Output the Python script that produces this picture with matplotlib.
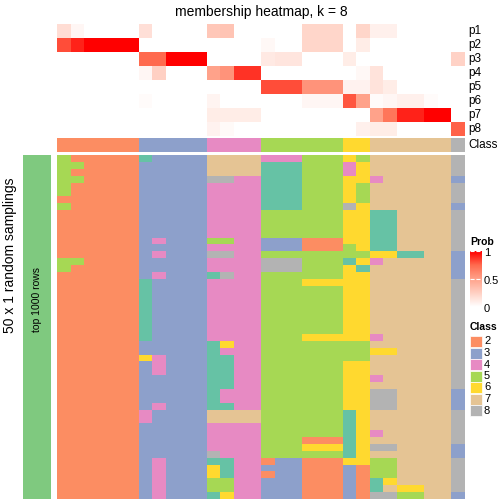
import numpy as np
import matplotlib
matplotlib.use("Agg")
import matplotlib.pyplot as plt
from matplotlib.colors import ListedColormap, BoundaryNorm, LinearSegmentedColormap
from matplotlib.patches import Rectangle

plt.rcParams['font.family'] = ['Liberation Sans', 'DejaVu Sans']

# class of each column (top annotation)
col_class = [2]*6 + [3]*5 + [4]*4 + [5]*6 + [6]*2 + [7]*6 + [8]

# membership probabilities p1..p8 for the 30 columns
p1 = [0.18, 0.05, 0, 0, 0, 0, 0.17, 0, 0, 0, 0, 0.30, 0.32, 0, 0, 0, 0, 0, 0.22, 0.22, 0.22, 0, 0.22, 0.08, 0.08, 0, 0, 0, 0, 0]
p2 = [0.82, 0.92, 1, 1, 1, 1, 0, 0, 0, 0, 0, 0, 0, 0, 0, 0.04, 0, 0, 0.22, 0.22, 0.22, 0, 0.10, 0, 0, 0, 0, 0, 0, 0]
p3 = [0, 0, 0, 0, 0, 0, 0.75, 0.75, 1, 1, 1, 0, 0, 0, 0, 0.12, 0.14, 0.14, 0, 0, 0, 0.10, 0, 0, 0, 0, 0, 0, 0, 0.24]
p4 = [0, 0, 0, 0, 0, 0, 0.05, 0.25, 0, 0, 0, 0.50, 0.57, 0.88, 0.88, 0, 0, 0, 0, 0, 0, 0, 0.04, 0.15, 0, 0, 0, 0, 0, 0]
p5 = [0, 0, 0, 0, 0, 0, 0, 0, 0, 0, 0, 0, 0, 0, 0, 0.82, 0.82, 0.82, 0.57, 0.57, 0.57, 0.07, 0.07, 0.15, 0.10, 0, 0, 0, 0, 0]
p6 = [0, 0, 0, 0, 0, 0, 0.02, 0, 0, 0, 0, 0.06, 0, 0, 0, 0, 0, 0, 0.05, 0.05, 0.05, 0.80, 0.50, 0.02, 0.05, 0.08, 0.08, 0.02, 0, 0]
p7 = [0, 0, 0, 0, 0, 0, 0, 0, 0, 0, 0, 0.10, 0.10, 0.10, 0.10, 0, 0, 0, 0, 0, 0, 0, 0, 0.50, 0.70, 0.92, 0.92, 1, 1, 0]
p8 = [0, 0, 0, 0, 0, 0, 0, 0, 0, 0, 0, 0.07, 0.03, 0, 0, 0, 0, 0, 0, 0, 0, 0, 0.08, 0.10, 0.10, 0, 0, 0, 0, 0.77]
prob_labels = ['p1', 'p2', 'p3', 'p4', 'p5', 'p6', 'p7', 'p8']

# class of each column in the 50 random samplings
samplings = [
    "522222133337777444555657777778",
    "552222333337777111555467777778",
    "522222333337777111555467777778",
    "552222333338844111555664777773",
    "522222333334444111555657777778",
    "522222333334444111555657777778",
    "222222333334444111555657777778",
    "522222333334444111555867777773",
    "222222333334444555555661177778",
    "222222333334444555555661177778",
    "222222333334444555555661177778",
    "222222333334444555555661177778",
    "222222343335544333222661177778",
    "222222333334444333222561177778",
    "222222343338844555555556611773",
    "552222333334444888555164777773",
    "522222333334444888555617777773",
    "222222343331844555555667777773",
    "222222133334444555666667777778",
    "222222133334444555555667777778",
    "222222133334444555555667777778",
    "222222133334444555555667777778",
    "222222133334444555555667777778",
    "222222133334444555555667777778",
    "222222133334444555555667777778",
    "222222133334444555555667777778",
    "222222133334444555666664777778",
    "222222333331644555555557777778",
    "222222333331444555555556677778",
    "222222643331144555555557777778",
    "222222343331144555555667777778",
    "222222343331144555555667777778",
    "222222333331144555555664777778",
    "222222333331144555555667777778",
    "222222333331444555555668877773",
    "222222333331444555555668877773",
    "222222343331144555555668877773",
    "222222433337777555555167777778",
    "222222433337777555555167777778",
    "222222333334444555555167777778",
    "222222333334444555555164777778",
    "222222333334444555222167777778",
    "222222333334444555666168877773",
    "222222333338444555555167777773",
    "222222343331144233222665577778",
    "222222343336144333222325577778",
    "222222343336144233222325577778",
    "222222343335544333222321677778",
    "222222343335544333222321766778",
    "222222343331644333222328855773",
]

class_ids = [1, 2, 3, 4, 5, 6, 7, 8]
class_cols = ['#66C2A5', '#FC8D62', '#8DA0CB', '#E78AC3', '#A6D854', '#FFD92F', '#E5C494', '#B3B3B3']
legend_classes = [2, 3, 4, 5, 6, 7, 8]

cls_cmap = ListedColormap(class_cols)
cls_norm = BoundaryNorm(np.arange(0.5, 9.5, 1), cls_cmap.N)
prob_cmap = LinearSegmentedColormap.from_list(
    'prob', [(0, '#FFFFFF'), (0.25, '#FFD0C3'), (0.5, '#FFA28A'), (0.75, '#FF6B4F'), (1, '#FF0000')])

W = H = 504
fig = plt.figure(figsize=(5.04, 5.04), dpi=100)

def px_axes(x0, y0, x1, y1):
    return fig.add_axes([x0 / W, 1 - y1 / H, (x1 - x0) / W, (y1 - y0) / H])

# top: membership probabilities
prob = np.array([p1, p2, p3, p4, p5, p6, p7, p8])
ax_top = px_axes(57, 24, 465, 136)
ax_top.pcolormesh(prob, cmap=prob_cmap, vmin=0, vmax=1)
ax_top.set_xlim(0, 30)
ax_top.set_ylim(8, 0)
ax_top.axis('off')
for i, lab in enumerate(prob_labels):
    ax_top.text(30.25, i + 0.5, lab, ha='left', va='center', fontsize=8.5, clip_on=False)

# class annotation bar
ax_cls = px_axes(57, 138, 465, 152)
ax_cls.pcolormesh(np.array([col_class]), cmap=cls_cmap, norm=cls_norm)
ax_cls.set_xlim(0, 30)
ax_cls.axis('off')
ax_cls.text(30.25, 0.5, 'Class', ha='left', va='center', fontsize=8.5, clip_on=False)

# bottom: random samplings
grid = np.array([[int(c) for c in row] for row in samplings])
ax_bot = px_axes(57, 155, 465, 499)
ax_bot.pcolormesh(grid, cmap=cls_cmap, norm=cls_norm)
ax_bot.set_xlim(0, 30)
ax_bot.set_ylim(50, 0)
ax_bot.axis('off')

# left row-slice annotation
ax_left = px_axes(23, 155, 51, 499)
ax_left.set_facecolor('#7FC97F')
ax_left.set_xticks([])
ax_left.set_yticks([])
for s in ax_left.spines.values():
    s.set_visible(False)
ax_left.text(0.5, 0.58, 'top 1000 rows', rotation=90, ha='center', va='center',
             fontsize=7.5, transform=ax_left.transAxes)

# overlay for titles / legends in pixel coords
ov = fig.add_axes([0, 0, 1, 1], facecolor='none')
ov.set_xlim(0, W)
ov.set_ylim(H, 0)
ov.axis('off')
ov.text(261, 12, 'membership heatmap, k = 8', ha='center', va='center', fontsize=10)
ov.text(10, 255, '50 x 1 random samplings', rotation=90, ha='center', va='center', fontsize=10)

# Prob colour bar
ov.text(470, 242, 'Prob', ha='left', va='center', fontsize=7.5, fontweight='bold')
ax_cb = px_axes(470, 251, 482, 307)
grad = np.linspace(1, 0, 100).reshape(-1, 1)
ax_cb.imshow(grad, cmap=prob_cmap, vmin=0, vmax=1, aspect='auto', extent=[0, 1, 0, 1])
ax_cb.axhline(0.5, color='white', lw=0.8, ls='--')
ax_cb.axhline(0.995, color='white', lw=0.8, ls='--')
ax_cb.axis('off')
for v, y in [(1, 252.5), (0.5, 281), (0, 309)]:
    ov.text(484, y, str(v), ha='left', va='center', fontsize=8)

# Class legend
ov.text(470, 327, 'Class', ha='left', va='center', fontsize=7.5, fontweight='bold')
for k, c in enumerate(legend_classes):
    y0 = 336 + 11.5 * k
    ov.add_patch(Rectangle((470, y0), 12, 11, facecolor=class_cols[class_ids.index(c)],
                           edgecolor='white', lw=0.5))
    ov.text(484, y0 + 5.5, str(c), ha='left', va='center', fontsize=8)

fig.savefig('out.png', dpi=100)
